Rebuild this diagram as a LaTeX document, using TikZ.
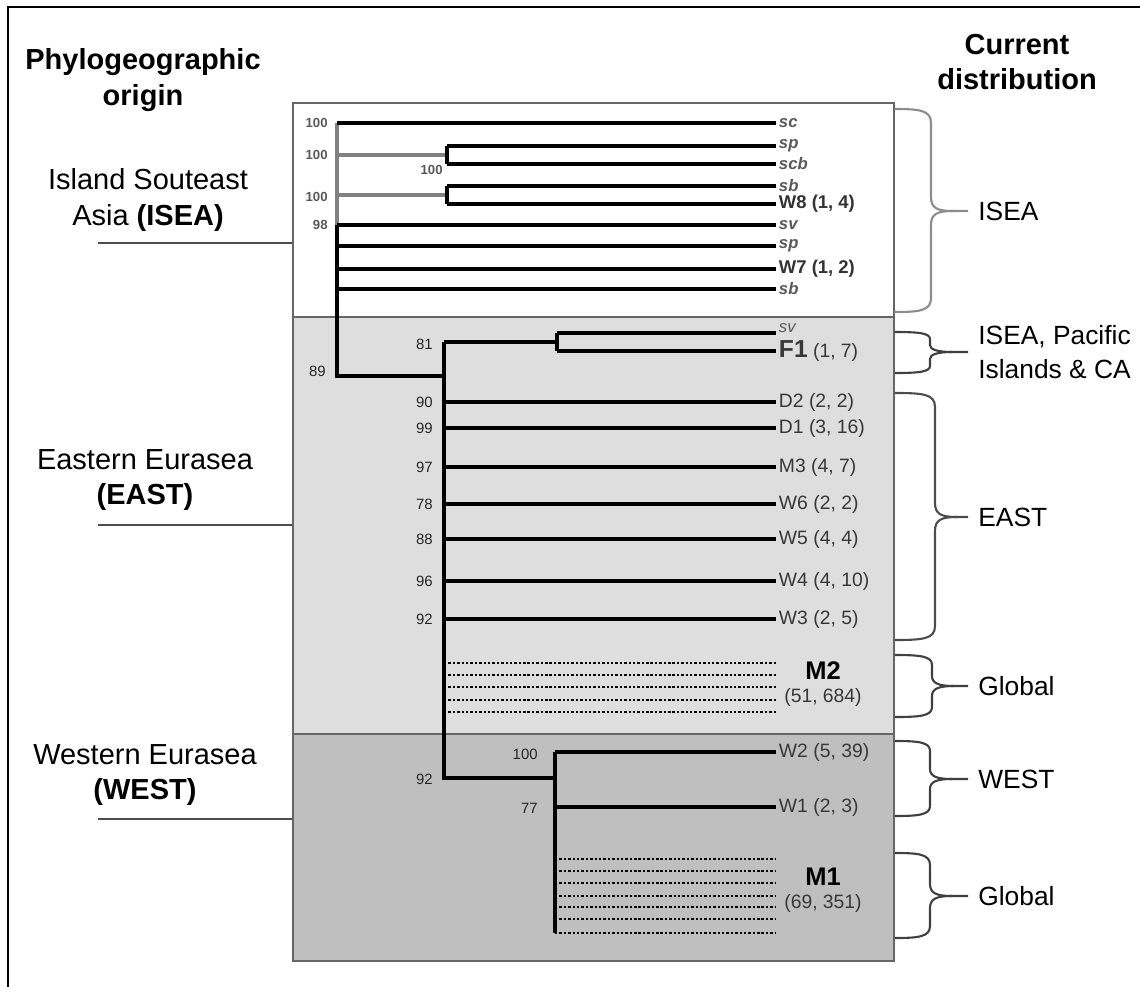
\documentclass[tikz,border=0pt]{standalone}
\usepackage{fontspec}
\setmainfont{Liberation Sans}
\usetikzlibrary{calc}
\tikzset{br/.style={line width=1.8pt, black},
  brg/.style={line width=1.8pt, black!50},
  dots/.style={line width=1.5pt, dash pattern=on 1.4pt off 1.1pt},
  band/.style={draw=black!60, line width=0.9pt, minimum width=120.2mm, inner sep=0pt, anchor=north west},
  tip/.style={anchor=west, inner xsep=1.5pt, inner ysep=0pt, text=black!78, font=\fontsize{11}{12}\selectfont},
  itip/.style={tip, text=black!65, font=\fontsize{9.5}{11}\selectfont\bfseries\itshape},
  wtip/.style={tip, text=black!80, font=\fontsize{10.5}{11}\selectfont\bfseries},
  bs/.style={anchor=east, inner sep=0pt, text=black!85, font=\fontsize{8.5}{10}\selectfont},
  bsg/.style={anchor=east, inner sep=0pt, text=black!65, font=\fontsize{7.5}{9}\selectfont\bfseries},
  big/.style={align=center, font=\fontsize{16.5}{20.4}\selectfont},
  head/.style={align=center, font=\fontsize{16.5}{20.4}\selectfont\bfseries},
  dist/.style={anchor=west, inner xsep=2mm, inner ysep=0pt, align=left, font=\fontsize{15}{19}\selectfont},
  brc/.style={line width=1.2pt},
  lead/.style={line width=1pt, black!70}}

\begin{document}
\begin{tikzpicture}[x=0.2mm, y=-0.2mm]
  \useasboundingbox (0,0) rectangle (1140,987);
  % frame
  \draw[line width=1.7pt] (8,1000) -- (8,7) -- (1150,7);
  % headings
  \node[head] (hOrig) at (143,80) {Phylogeographic\\origin};
  \node[head] (hDist) at (1017,62) {Current\\distribution};
  % bands
  \node[band, fill=white, minimum height=42.8mm] (bandI) at (292,102) {};
  \node[band, fill=black!13, minimum height=83.4mm] (bandE) at (292,316) {};
  \node[band, fill=black!25, minimum height=45.4mm] (bandW) at (292,733) {};
  % origins
  \node[big] (oISEA) at (148,200) {Island Souteast\\Asia \textbf{(ISEA)}};
  \node[big] (oEAST) at (145,480) {Eastern Eurasea\\\textbf{(EAST)}};
  \node[big] (oWEST) at (145,775) {Western Eurasea\\\textbf{(WEST)}};
  \coordinate (lISEA) at (98,243);
  \coordinate (lEAST) at (98,525);
  \coordinate (lWEST) at (98,819);
  \foreach \r in {ISEA,EAST,WEST}
    \draw[lead] (l\r) -- (l\r -| bandI.west);
  % ISEA clade
  \foreach \nm/\y/\lab in {sc/123/sc, spa/146/sp, scb/164/scb, sba/186/sb, sv/225/sv, spb/246/sp, sbb/289/sb}
    \node[itip] (t\nm) at (776,\y) {\lab};
  \node[wtip] (tW8) at (776,204) {W8 (1, 4)};
  \node[wtip] (tW7) at (776,269) {W7 (1, 2)};
  \coordinate (n89) at (337,376);
  \coordinate (nA) at (447,155);
  \coordinate (nB) at (447,195);
  \coordinate (n92) at (444,778);
  \coordinate (nF) at (557,342);
  \coordinate (nW) at (555,778);
  \draw[brg] (n89 |- tsc.west) -- (n89 |- tsv.west);
  \draw[br] (n89 |- tsv.west) -- (n89) -- (n92 |- n89);
  \foreach \t in {sc,sv,spb,W7,sbb}
    \draw[br] (n89 |- t\t.west) -- (t\t.west);
  \draw[brg] (n89 |- nA) -- (nA);
  \draw[brg] (n89 |- nB) -- (nB);
  \draw[br] (nA |- tspa.west) -- (nA |- tscb.west);
  \draw[br] (nB |- tsba.west) -- (nB |- tW8.west);
  \foreach \t/\n in {spa/nA, scb/nA, sba/nB, W8/nB}
    \draw[br] (\n |- t\t.west) -- (t\t.west);
  \node[bsg] (s1) at (328,123) {100};
  \node[bsg] (s2) at (328,155) {100};
  \node[bsg] (s3) at (443,170) {100};
  \node[bsg] (s4) at (328,197) {100};
  \node[bsg] (s5) at (328,225) {98};
  \node[bs] (s89) at (326,371) {89};
  % EAST clade
  \node[itip, anchor=south west, font=\fontsize{9.5}{11}\selectfont\itshape] (tsvF) at (776,333) {sv};
  \node[tip] (tF1) at (776,351) {\textbf{\fontsize{14}{14}\selectfont F1} (1, 7)};
  \draw[br] (n92 |- nF) -- (nF);
  \draw[br] (n92 |- nF) -- (n92) -- (nW);
  \draw[br] (nF |- tsvF.south west) -- (nF |- tF1.west);
  \draw[br] (nF |- tsvF.south west) -- (tsvF.south west);
  \draw[br] (nF |- tF1.west) -- (tF1.west);
  \node[bs] (s81) at (433,344) {81};
  \foreach \nm/\y/\b/\lab in {D2/402/90/{D2 (2, 2)}, D1/428/99/{D1 (3, 16)}, M3/467/97/{M3 (4, 7)},
      W6/504/78/{W6 (2, 2)}, W5/539/88/{W5 (4, 4)}, W4/581/96/{W4 (4, 10)}, W3/619/92/{W3 (2, 5)}} {
    \node[tip] (t\nm) at (776,\y) {\lab};
    \node[bs] (b\nm) at (433,\y) {\b};
    \draw[br] (n92 |- t\nm.west) -- (t\nm.west);
  }
  \foreach \y in {663,675,687,700,712}
    \draw[dots] (n92 |- 0,\y) -- (tW3.west |- 0,\y);
  \node[font=\fontsize{14.5}{15}\selectfont\bfseries] (lM2) at (823,671) {M2};
  \node[tip, anchor=center] (cM2) at (823,697) {(51, 684)};
  % WEST clade
  \node[tip] (tW2) at (776,752) {W2 (5, 39)};
  \node[tip] (tW1) at (776,807) {W1 (2, 3)};
  \draw[br] (nW |- tW2.west) -- (nW |- 0,933);
  \draw[br] (nW |- tW2.west) -- (tW2.west);
  \draw[br] (nW |- tW1.west) -- (tW1.west);
  \foreach \y in {859,871,883,896,907,919,933}
    \draw[dots] (nW |- 0,\y) -- (tW2.west |- 0,\y);
  \node[bs] (s92) at (433,779) {92};
  \node[bs] (s100) at (538,754) {100};
  \node[bs] (s77) at (538,808) {77};
  \node[font=\fontsize{14.5}{15}\selectfont\bfseries] (lM1) at (823,877) {M1};
  \node[tip, anchor=center] (cM1) at (823,903) {(69, 351)};
  % distribution braces
  \foreach \t/\b/\m/\v/\r/\col/\nm/\lab in {109/312/211/931/14/black!45/dI/{ISEA},
      332/373/352/930/7/black!75/dP/{ISEA, Pacific\\Islands \& CA},
      393/640/517/935/14/black!70/dE/{EAST},
      655/717/686/932/10/black!75/dG/{Global},
      741/816/779/930/10/black!75/dW/{WEST},
      853/938/896/930/12/black!75/dH/{Global}} {
    \node[dist] (\nm) at (968,\m) {\lab};
    \draw[brc, draw=\col] (bandI.east |- 0,\t) .. controls (\v-12,\t) and (\v,\t+1) .. (\v,\t+\r)
      -- (\v,\m-\r) .. controls (\v,\m-3) and (\v+6,\m) .. (\v+22,\m) -- (\nm.west);
    \draw[brc, draw=\col] (\v+22,\m) .. controls (\v+6,\m) and (\v,\m+3) .. (\v,\m+\r)
      -- (\v,\b-\r) .. controls (\v,\b-1) and (\v-12,\b) .. (bandI.east |- 0,\b);
  }
\end{tikzpicture}
\end{document}
